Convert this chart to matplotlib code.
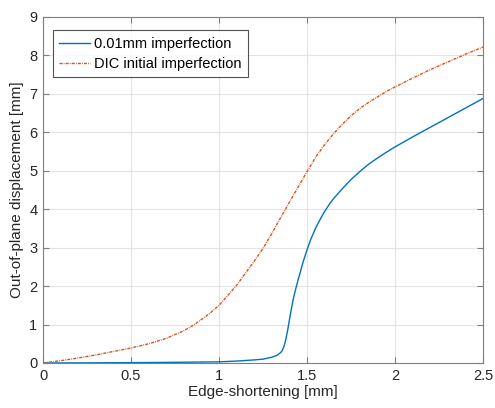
import numpy as np
import matplotlib
matplotlib.use("Agg")
import matplotlib.pyplot as plt

# Edge-shortening [mm] vs out-of-plane displacement [mm]
x_fine = [0, 0.2, 0.4, 0.6, 0.8, 1.0, 1.1, 1.2, 1.25, 1.3, 1.33, 1.35, 1.36,
          1.37, 1.38, 1.39, 1.40, 1.41, 1.42, 1.43, 1.44, 1.45, 1.46, 1.47,
          1.48, 1.49, 1.50, 1.52, 1.55, 1.58, 1.6, 1.63, 1.65, 1.7, 1.75,
          1.8, 1.85, 1.9, 1.95, 2.0, 2.05, 2.1, 2.2, 2.3, 2.4, 2.5]
w_fine = [0, 0.003, 0.007, 0.012, 0.02, 0.03, 0.05, 0.08, 0.10, 0.15, 0.20,
          0.27, 0.33, 0.44, 0.62, 0.85, 1.12, 1.38, 1.62, 1.82, 2.0, 2.17,
          2.33, 2.50, 2.66, 2.80, 2.94, 3.20, 3.52, 3.78, 3.94, 4.15, 4.27,
          4.53, 4.77, 4.98, 5.17, 5.33, 5.48, 5.62, 5.75, 5.88, 6.13, 6.38,
          6.63, 6.88]

x_dic = [0, 0.1, 0.2, 0.3, 0.4, 0.5, 0.6, 0.7, 0.8, 0.85, 0.9, 0.95, 1.0,
         1.1, 1.2, 1.25, 1.3, 1.35, 1.4, 1.45, 1.5, 1.55, 1.6, 1.65, 1.7,
         1.75, 1.8, 1.85, 1.9, 1.95, 2.0, 2.1, 2.2, 2.3, 2.4, 2.5]
w_dic = [0.0, 0.06, 0.13, 0.21, 0.30, 0.39, 0.50, 0.64, 0.84, 0.97, 1.13,
         1.30, 1.50, 2.02, 2.65, 2.98, 3.37, 3.78, 4.18, 4.58, 4.98, 5.36,
         5.68, 5.96, 6.21, 6.43, 6.62, 6.78, 6.92, 7.06, 7.18, 7.41, 7.63,
         7.83, 8.03, 8.22]

x_ticks = [0, 0.5, 1, 1.5, 2, 2.5]
x_tick_labels = ["0", "0.5", "1", "1.5", "2", "2.5"]
y_ticks = list(range(0, 10))

plt.rcParams["font.family"] = ["Liberation Sans", "DejaVu Sans"]
plt.rcParams["font.size"] = 10

fig = plt.figure(figsize=(4.95, 4.08), dpi=100)
ax = fig.add_axes([43 / 495, 1 - 363 / 408, 440 / 495, 346 / 408])

ax.plot(x_fine, w_fine, color="#0072BD", lw=1.0, label="0.01mm imperfection")
ax.plot(x_dic, w_dic, color="#D95319", lw=1.0, dashes=(2.2, 0.8, 0.6, 0.8),
        label="DIC initial imperfection")

ax.set_xlim(0, 2.5)
ax.set_ylim(0, 9)
ax.set_xticks(x_ticks)
ax.set_xticklabels(x_tick_labels)
ax.set_yticks(y_ticks)
ax.grid(True, color="#e3e3e3", lw=0.8)
ax.set_axisbelow(True)
for s in ax.spines.values():
    s.set_color("#7f7f7f")
    s.set_linewidth(0.8)
ax.tick_params(direction="in", length=4, width=0.8, color="#7f7f7f",
               labelcolor="#262626", labelsize=10.5, top=True, right=True,
               pad=4)
ax.set_xlabel("Edge-shortening [mm]", fontsize=11, color="#262626", labelpad=2)
ax.set_ylabel("Out-of-plane displacement [mm]", fontsize=11, color="#262626",
              labelpad=4)

leg = ax.legend(loc="upper left", bbox_to_anchor=(0.022, 0.962),
                fontsize=10.5, frameon=True, fancybox=False,
                edgecolor="#262626", handlelength=2.1, handletextpad=0.3,
                borderpad=0.45, labelspacing=0.42, borderaxespad=0)
leg.get_frame().set_linewidth(0.8)

fig.savefig("out.png", dpi=100)
